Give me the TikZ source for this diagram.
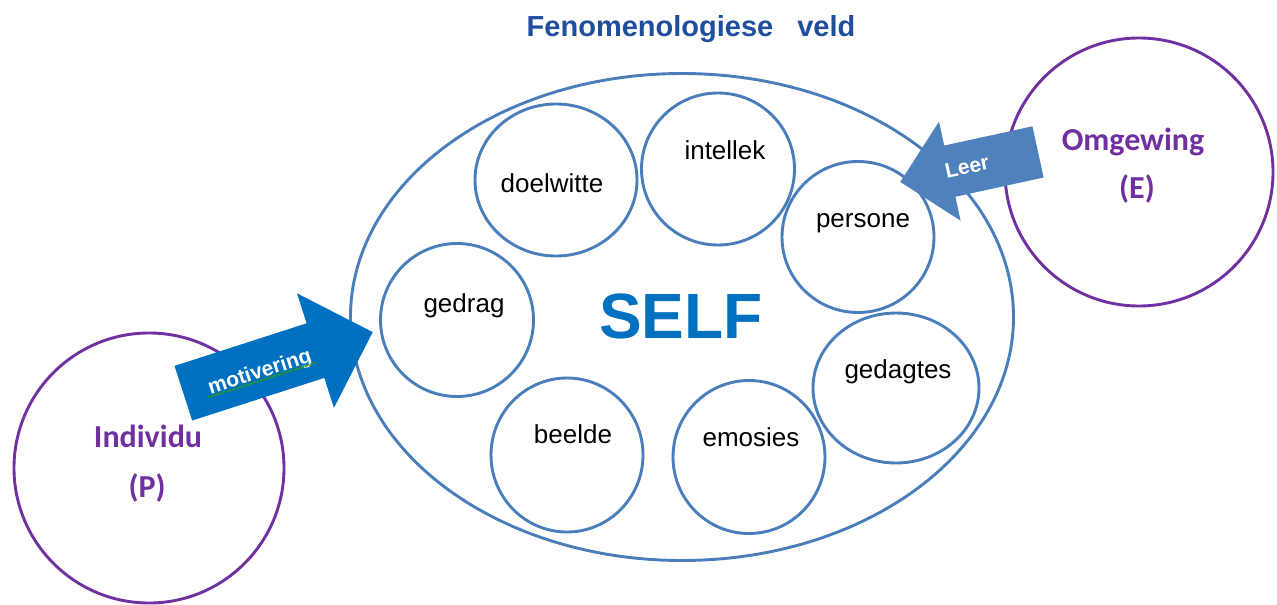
\documentclass[tikz,border=0pt]{standalone}
\usepackage{fontspec}
\setmainfont{Liberation Sans}
\newfontfamily\calibri{Carlito}
\usepackage{tikz}
\usetikzlibrary{shapes.geometric,shapes.arrows,calc,decorations.pathmorphing}
\definecolor{ring}{RGB}{74,126,187}
\definecolor{paars}{RGB}{112,48,160}
\definecolor{selfblou}{RGB}{0,112,192}
\definecolor{leerblou}{RGB}{79,129,189}
\definecolor{titelblou}{RGB}{31,78,158}
\definecolor{spelgroen}{RGB}{40,150,40}

\tikzset{
  kring/.style={ellipse,draw=ring,line width=2.9pt,inner sep=0pt},
  persoon/.style={circle,draw=paars,line width=2.9pt,inner sep=0pt},
  woord/.style={anchor=base,font=\fontsize{26}{30}\selectfont},
  paarswoord/.style={anchor=base,text=paars,font=\calibri\bfseries\fontsize{32}{36}\selectfont},
  pijl/.style={single arrow,draw=none,inner xsep=0pt,text height=0pt,text depth=0pt,
    single arrow tip angle=90,single arrow head indent=0pt,anchor=tip},
  pijlwoord/.style={text=white,font=\bfseries\fontsize{21}{24}\selectfont}
}

\begin{document}
\begin{tikzpicture}[x=1pt,y=-1pt]
    \useasboundingbox (0,0) rectangle (1277,605);

    % Titel
    \node[anchor=base,text=titelblou,font=\bfseries\fontsize{29}{32}\selectfont] (titel)
        at (691,36) {Fenomenologiese\hspace{24pt}veld};

    % Groot ellips (die self)
    \node[kring,minimum width=663pt,minimum height=487pt] (veld) at (682,317) {};

    % Sirkels binne die self
    \node[kring,minimum width=162pt,minimum height=152pt] (doel) at (556,180) {};
    \node[kring,minimum width=153pt,minimum height=152pt] (intel) at (718,169) {};
    \node[kring,minimum width=152pt,minimum height=151pt] (pers) at (858,237) {};
    \node[kring,minimum width=153pt,minimum height=153pt] (gedrag) at (457,320) {};
    \node[kring,minimum width=166pt,minimum height=150pt] (gedag) at (896,388) {};
    \node[kring,minimum width=152pt,minimum height=154pt] (beeld) at (567,455) {};
    \node[kring,minimum width=152pt,minimum height=153pt] (emo) at (749,457) {};

    \node[woord] (doeltekst) at (552,192) {doelwitte};
    \node[woord] (inteltekst) at (725,159) {intellek};
    \node[woord] (perstekst) at (863,227) {persone};
    \node[woord] (gedragtekst) at (464,312) {gedrag};
    \node[woord] (gedagtekst) at (898,378) {gedagtes};
    \node[woord] (beeldtekst) at (573,443) {beelde};
    \node[woord] (emotekst) at (751,446) {emosies};

    \node[anchor=base,text=selfblou,font=\bfseries\fontsize{64}{70}\selectfont] (self)
        at (681,338) {SELF};

    % Individu en omgewing
    \node[persoon,minimum size=270pt] (individu) at (149,468) {};
    \node[persoon,minimum size=268pt] (omgewing) at (1139,172) {};

    \node[paarswoord] (indtekst) at (148,447) {Individu};
    \node[paarswoord] (ptekst) at (147,497) {(P)};
    \node[paarswoord] (omgtekst) at (1133,150) {Omgewing};
    \node[paarswoord] (etekst) at (1137,198) {(E)};

    % Pyle
    \node[pijl,fill=selfblou,rotate=17.9,minimum height=199pt,inner ysep=28.5pt,
        single arrow head extend=31.5pt] (motiv) at (373,332) {};
    \node[pijlwoord,rotate=17.9] (motivtekst) at (260,373) {motivering};
    \draw[spelgroen,line width=1pt,decorate,decoration={snake,amplitude=1pt,segment length=4pt}]
        ($(motivtekst.base west)!2pt!-90:(motivtekst.base east)$) --
        ($(motivtekst.base east)!2pt!90:(motivtekst.base west)$);

    \node[pijl,fill=leerblou,rotate=192.3,minimum height=141pt,inner ysep=26pt,
        single arrow head extend=24.5pt] (leer) at (900,182) {};
    \node[pijlwoord,rotate=12.3] (leertekst) at (967,167) {Leer};

\end{tikzpicture}
\end{document}
